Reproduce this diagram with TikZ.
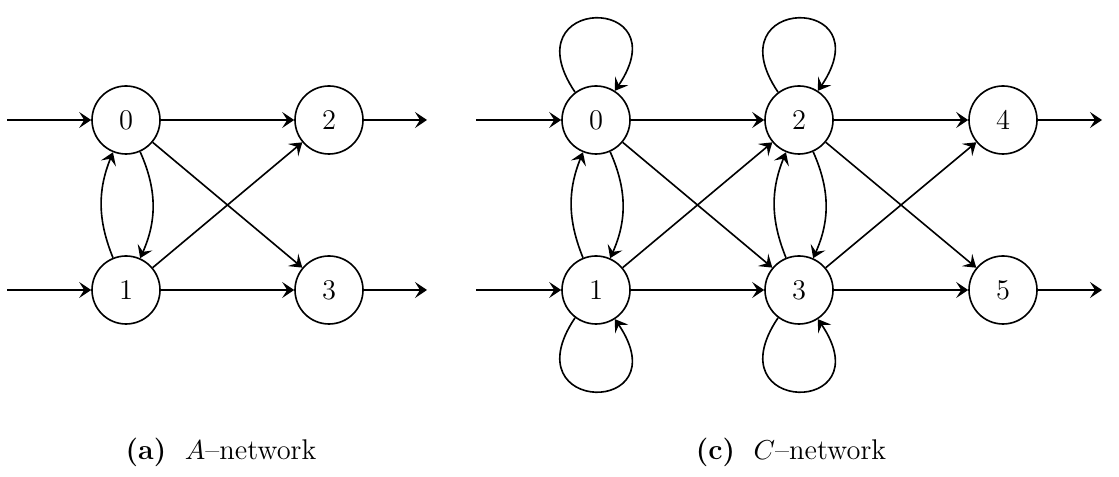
\documentclass[tikz,border=0pt]{standalone}
\usetikzlibrary{arrows.meta}
\begin{document}
\begin{tikzpicture}[x=0.4pt,y=-0.4pt,
  st/.style={circle,draw,line width=0.65pt,minimum size=27.2pt,inner sep=0pt,font=\fontsize{11.4}{13}\selectfont},
  ar/.style={line width=0.65pt,-{Stealth[length=4.8pt,width=6.4pt,inset=2pt]}},
  captxt/.style={font=\fontsize{11.4}{13}\selectfont}]
\useasboundingbox (0,0) rectangle (1119,477);
% (a) A-network
\node[st] (a0) at (126,120) {0};
\node[st] (a2) at (329,120) {2};
\node[st] (a1) at (126,290) {1};
\node[st] (a3) at (329,290) {3};
\coordinate (ai0) at (7,120);
\coordinate (ai1) at (7,290);
\coordinate (ao2) at (427,120);
\coordinate (ao3) at (427,290);
\draw[ar] (ai0) -- (a0);
\draw[ar] (ai1) -- (a1);
\draw[ar] (a2) -- (ao2);
\draw[ar] (a3) -- (ao3);
\draw[ar] (a0) -- (a2);
\draw[ar] (a1) -- (a3);
\draw[ar] (a0) -- (a3);
\draw[ar] (a1) -- (a2);
\draw[ar] (a1) to[bend left=22] (a0);
\draw[ar] (a0) to[bend left=24] (a1);
\node[captxt] (capa) at (221,452) {\textbf{(a)}~~$A$--network};
% (c) C-network
\node[st] (c0) at (596,120) {0};
\node[st] (c2) at (799,120) {2};
\node[st] (c4) at (1003,120) {4};
\node[st] (c1) at (596,290) {1};
\node[st] (c3) at (799,290) {3};
\node[st] (c5) at (1003,290) {5};
\coordinate (ci0) at (476,120);
\coordinate (ci1) at (476,290);
\coordinate (co4) at (1102,120);
\coordinate (co5) at (1102,290);
\draw[ar] (ci0) -- (c0);
\draw[ar] (ci1) -- (c1);
\draw[ar] (c4) -- (co4);
\draw[ar] (c5) -- (co5);
\draw[ar] (c0) -- (c2);
\draw[ar] (c1) -- (c3);
\draw[ar] (c0) -- (c3);
\draw[ar] (c1) -- (c2);
\draw[ar] (c2) -- (c4);
\draw[ar] (c3) -- (c5);
\draw[ar] (c2) -- (c5);
\draw[ar] (c3) -- (c4);
\draw[ar] (c1) to[bend left=22] (c0);
\draw[ar] (c0) to[bend left=24] (c1);
\draw[ar] (c3) to[bend left=22] (c2);
\draw[ar] (c2) to[bend left=24] (c3);
\draw[ar] (c0.127) .. controls +(124:47pt) and +(56:47pt) .. (c0.57);
\draw[ar] (c2.127) .. controls +(124:47pt) and +(56:47pt) .. (c2.57);
\draw[ar] (c1.233) .. controls +(236:47pt) and +(304:47pt) .. (c1.303);
\draw[ar] (c3.233) .. controls +(236:47pt) and +(304:47pt) .. (c3.303);
\node[captxt] (capc) at (791,452) {\textbf{(c)}~~$C$--network};
\end{tikzpicture}
\end{document}
